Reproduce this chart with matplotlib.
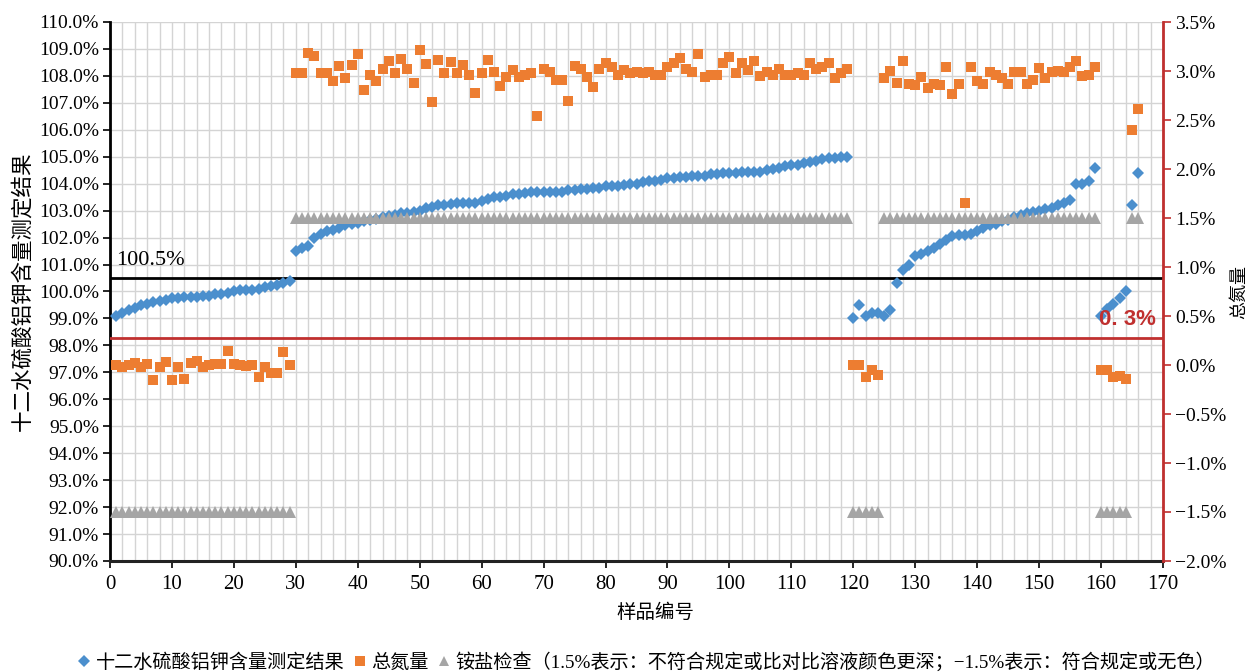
import numpy as np
import matplotlib
matplotlib.use('Agg')
import matplotlib.pyplot as plt
from matplotlib.lines import Line2D
from matplotlib.ticker import FuncFormatter, MultipleLocator

# ************ DATA ************

samples = np.arange(1, 167)

# 十二水硫酸铝钾含量测定结果 (%), samples 1..166
alum_content = [
    # 1-29
    99.1, 99.2, 99.3, 99.4, 99.5, 99.55, 99.6, 99.65, 99.7, 99.75,
    99.75, 99.8, 99.8, 99.8, 99.85, 99.85, 99.9, 99.9, 99.95, 100.0,
    100.05, 100.05, 100.05, 100.1, 100.15, 100.2, 100.25, 100.3, 100.4,
    # 30-119
    101.5, 101.6, 101.7, 102.0, 102.15, 102.25, 102.3, 102.35, 102.45, 102.5,
    102.55, 102.6, 102.65, 102.7, 102.75, 102.8, 102.85, 102.9, 102.9, 102.95,
    103.0, 103.1, 103.15, 103.2, 103.2, 103.25, 103.3, 103.3, 103.3, 103.3,
    103.35, 103.45, 103.5, 103.5, 103.55, 103.6, 103.6, 103.65, 103.7, 103.7,
    103.7, 103.7, 103.7, 103.7, 103.75, 103.75, 103.8, 103.8, 103.85, 103.85,
    103.9, 103.9, 103.9, 103.95, 104.0, 104.0, 104.05, 104.1, 104.1, 104.15,
    104.2, 104.2, 104.25, 104.25, 104.3, 104.3, 104.3, 104.35, 104.35, 104.4,
    104.4, 104.4, 104.45, 104.45, 104.45, 104.45, 104.5, 104.55, 104.6, 104.65,
    104.7, 104.7, 104.75, 104.8, 104.85, 104.9, 104.95, 104.95, 105.0, 105.0,
    # 120-159
    99.0, 99.5, 99.1, 99.2, 99.2, 99.1, 99.3, 100.3, 100.8, 101.0,
    101.3, 101.4, 101.5, 101.6, 101.75, 101.9, 102.05, 102.1, 102.1, 102.15,
    102.25, 102.35, 102.45, 102.5, 102.6, 102.65, 102.75, 102.85, 102.9, 102.95,
    103.0, 103.05, 103.1, 103.2, 103.3, 103.4, 104.0, 104.0, 104.1, 104.6,
    # 160-166
    99.1, 99.35, 99.55, 99.75, 100.0, 103.2, 104.4,
]

# 总氮量 (%), samples 1..166
total_nitrogen = [
    # 1-29
    0.0, -0.02, 0.0, 0.02, -0.02, 0.01, -0.15, -0.02, 0.03, -0.15,
    -0.02, -0.14, 0.02, 0.04, -0.02, 0.0, 0.01, 0.01, 0.14, 0.01,
    0.0, -0.01, 0.0, -0.12, -0.02, -0.08, -0.08, 0.13, 0.0,
    # 30-56
    2.98, 2.98, 3.18, 3.15, 2.98, 2.98, 2.90, 3.05, 2.93, 3.06,
    3.17, 2.81, 2.96, 2.90, 3.02, 3.10, 2.98, 3.12, 3.02, 2.88,
    3.21, 3.07, 2.68, 3.11, 2.98, 3.09, 2.98,
    # 57-119
    3.06, 2.96, 2.78, 2.98, 3.11, 2.99, 2.85, 2.94, 3.01, 2.94,
    2.96, 2.98, 2.54, 3.02, 2.99, 2.91, 2.91, 2.69, 3.05, 3.02,
    2.94, 2.84, 3.02, 3.08, 3.04, 2.96, 3.01, 2.98, 2.99, 2.98,
    2.99, 2.96, 2.96, 3.04, 3.08, 3.13, 3.02, 2.99, 3.17, 2.94,
    2.96, 2.96, 3.08, 3.14, 2.98, 3.08, 3.01, 3.10, 2.95, 2.99,
    2.96, 3.02, 2.96, 2.96, 2.98, 2.96, 3.08, 3.02, 3.04, 3.08,
    2.93, 2.98, 3.02,
    # 120-124
    0.0, 0.0, -0.12, -0.05, -0.10,
    # 125-159
    2.93, 3.00, 2.88, 3.10, 2.87, 2.86, 2.94, 2.83, 2.87, 2.86,
    3.04, 2.77, 2.87, 1.65, 3.04, 2.90, 2.87, 2.99, 2.96, 2.93,
    2.87, 2.99, 2.99, 2.87, 2.91, 3.03, 2.93, 2.99, 3.00, 2.99,
    3.04, 3.10, 2.95, 2.96, 3.04,
    # 160-166
    -0.05, -0.05, -0.12, -0.11, -0.14, 2.40, 2.61,
]

# 铵盐检查: 1.5 = 不符合规定, -1.5 = 符合规定
ammonium_check = [-1.5] * 29 + [1.5] * 90 + [-1.5] * 5 + [1.5] * 35 + [-1.5] * 5 + [1.5] * 2

alum_limit = 100.5
nitrogen_limit = 0.28   # drawn line, labelled "0.3%"

BLUE = '#4b8fcd'
ORANGE = '#ed7d31'
GRAY = '#a5a5a5'
RED = '#c0302f'

SERIF = ['Liberation Serif', 'Noto Sans CJK SC']
CJK = ['Noto Sans CJK SC', 'DejaVu Sans']

# ************ PLOT ************

fig = plt.figure(figsize=(12.48, 6.72), dpi=100)
ax = fig.add_axes([110 / 1248, 1 - 561 / 672, (1163 - 110) / 1248, (561 - 22) / 672])
ax2 = ax.twinx()

ax.set_xlim(0, 170)
ax.set_ylim(90, 110)
ax2.set_ylim(-2.0, 3.5)

# grid
ax.xaxis.set_major_locator(MultipleLocator(10))
ax.xaxis.set_minor_locator(MultipleLocator(2))
ax.yaxis.set_major_locator(MultipleLocator(1))
ax2.yaxis.set_major_locator(MultipleLocator(0.5))
ax.grid(True, which='major', axis='y', color='#d4d4d4', lw=1.0)
ax.grid(True, which='both', axis='x', color='#d4d4d4', lw=1.0)
ax.set_axisbelow(True)

ax.plot(samples, alum_content, 'D', color=BLUE, markersize=6.5, markeredgewidth=0, zorder=3)
ax.axhline(alum_limit, color='black', lw=2, zorder=2)
ax.text(1.0, alum_limit + 0.3, '100.5%', fontsize=16, family=SERIF, ha='left', va='bottom')

ax2.plot(samples, ammonium_check, '^', color=GRAY, markersize=8, markeredgewidth=0, zorder=3)
ax2.plot(samples, total_nitrogen, 's', color=ORANGE, markersize=7, markeredgewidth=0, zorder=4)
ax2.axhline(nitrogen_limit, color=RED, lw=2, zorder=2)
ax2.text(159.6, 0.46, '0. 3%', color=RED, fontsize=16, fontweight='bold',
         family=['Liberation Sans', 'DejaVu Sans'], ha='left', va='center', zorder=5)

# tick formatting
ax.yaxis.set_major_formatter(FuncFormatter(lambda v, p: f'{v:.1f}%'))
ax2.yaxis.set_major_formatter(FuncFormatter(lambda v, p: f'{v:.1f}%'.replace('-', '\u2212')))

ax.tick_params(axis='x', which='major', length=5, width=1.2, pad=5, labelsize=15, direction='out')
ax.tick_params(axis='x', which='minor', length=0)
ax.tick_params(axis='y', length=5, width=1.2, pad=3, labelsize=14)
ax2.tick_params(axis='y', length=6, width=1.2, colors=RED, labelcolor='black', pad=3, labelsize=14)
for lab in ax.get_xticklabels() + ax.get_yticklabels() + ax2.get_yticklabels():
    lab.set_family(SERIF)

for a in (ax, ax2):
    a.spines['top'].set_visible(False)
ax.spines['left'].set_linewidth(2)
ax.spines['bottom'].set_linewidth(2.2)
ax.spines['bottom'].set_color('#222222')
ax2.spines['left'].set_visible(False)
ax2.spines['bottom'].set_visible(False)
ax2.spines['right'].set_color(RED)
ax2.spines['right'].set_linewidth(2)

ax.set_ylabel('十二水硫酸铝钾含量测定结果', family=CJK, fontsize=15.5, labelpad=4)
ax2.set_ylabel('总氮量', family=CJK, fontsize=13, labelpad=2)
fig.text(655 / 1248, 1 - 612 / 672, '样品编号', family=CJK, fontsize=14, ha='center', va='center')

handles = [
    Line2D([], [], marker='D', ls='none', color=BLUE, markersize=6, markeredgewidth=0),
    Line2D([], [], marker='s', ls='none', color=ORANGE, markersize=7, markeredgewidth=0),
    Line2D([], [], marker='^', ls='none', color=GRAY, markersize=7, markeredgewidth=0),
]
labels = ['十二水硫酸铝钾含量测定结果', '总氮量',
          '铵盐检查（1.5%表示：不符合规定或比对比溶液颜色更深；\u22121.5%表示：符合规定或无色）']
fig.legend(handles, labels, loc='center', bbox_to_anchor=(645 / 1248, 1 - 662 / 672), ncol=3,
           frameon=False, handletextpad=0.1, columnspacing=0.3, handlelength=1.0,
           prop={'family': SERIF, 'size': 13.8})

plt.savefig('out.png', dpi=100)
